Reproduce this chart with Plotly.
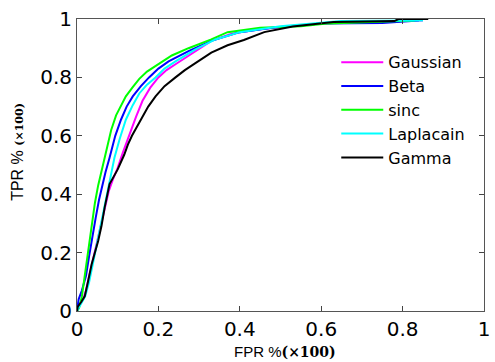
import plotly.graph_objects as go

# ROC curves (FPR, TPR)
gauss_x = [0, 0.005, 0.015, 0.022, 0.03, 0.04, 0.05, 0.06, 0.068, 0.078, 0.088, 0.1, 0.112, 0.12, 0.128, 0.145, 0.161, 0.18, 0.2, 0.22, 0.242, 0.282, 0.33, 0.38, 0.45, 0.52, 0.6, 0.7, 0.85]
gauss_y = [0, 0.02, 0.04, 0.07, 0.12, 0.18, 0.24, 0.295, 0.35, 0.41, 0.45, 0.49, 0.54, 0.57, 0.605, 0.665, 0.72, 0.765, 0.8, 0.825, 0.845, 0.88, 0.925, 0.95, 0.965, 0.975, 0.985, 0.99, 0.995]

beta_x = [0, 0.004, 0.012, 0.022, 0.03, 0.038, 0.046, 0.054, 0.062, 0.07, 0.08, 0.094, 0.108, 0.122, 0.137, 0.157, 0.177, 0.2, 0.225, 0.274, 0.33, 0.4, 0.48, 0.6, 0.75, 0.84]
beta_y = [0, 0.04, 0.07, 0.12, 0.19, 0.26, 0.32, 0.38, 0.43, 0.475, 0.525, 0.6, 0.655, 0.7, 0.735, 0.77, 0.8, 0.83, 0.855, 0.89, 0.925, 0.955, 0.97, 0.985, 0.986, 0.995]

sinc_x = [0, 0.005, 0.012, 0.019, 0.025, 0.032, 0.038, 0.044, 0.052, 0.06, 0.068, 0.076, 0.084, 0.096, 0.11, 0.12, 0.136, 0.153, 0.172, 0.193, 0.233, 0.274, 0.33, 0.37, 0.45, 0.55, 0.62, 0.83]
sinc_y = [0, 0.01, 0.05, 0.12, 0.18, 0.26, 0.32, 0.37, 0.43, 0.48, 0.53, 0.58, 0.62, 0.67, 0.71, 0.735, 0.765, 0.795, 0.82, 0.84, 0.875, 0.9, 0.93, 0.955, 0.97, 0.975, 0.985, 0.995]

lap_x = [0, 0.008, 0.02, 0.03, 0.04, 0.05, 0.06, 0.068, 0.076, 0.084, 0.092, 0.105, 0.12, 0.137, 0.153, 0.172, 0.193, 0.215, 0.242, 0.29, 0.34, 0.4, 0.5, 0.65, 0.85]
lap_y = [0, 0.02, 0.05, 0.1, 0.17, 0.24, 0.3, 0.36, 0.42, 0.47, 0.525, 0.59, 0.655, 0.705, 0.745, 0.775, 0.8, 0.83, 0.855, 0.895, 0.93, 0.955, 0.975, 0.993, 0.995]

gamma_x = [0, 0.002, 0.01, 0.019, 0.027, 0.036, 0.044, 0.052, 0.06, 0.068, 0.08, 0.09, 0.1, 0.116, 0.125, 0.135, 0.145, 0.16, 0.175, 0.193, 0.215, 0.242, 0.265, 0.29, 0.33, 0.37, 0.41, 0.46, 0.53, 0.63, 0.78, 0.79, 0.863]
gamma_y = [0, 0.015, 0.03, 0.05, 0.1, 0.16, 0.2, 0.24, 0.29, 0.355, 0.435, 0.46, 0.485, 0.535, 0.57, 0.6, 0.625, 0.665, 0.7, 0.735, 0.77, 0.8, 0.825, 0.848, 0.885, 0.91, 0.928, 0.955, 0.974, 0.99, 0.993, 1.0, 1.0]

tick_vals = [0, 0.2, 0.4, 0.6, 0.8, 1]
tick_text = ["0", "0.2", "0.4", "0.6", "0.8", "1"]

series = [
    ("Gaussian", gauss_x, gauss_y, "#ff00ff"),
    ("Beta", beta_x, beta_y, "#0000ff"),
    ("sinc", sinc_x, sinc_y, "#00ff00"),
    ("Laplacain", lap_x, lap_y, "#00ffff"),
    ("Gamma", gamma_x, gamma_y, "#000000"),
]

fig = go.Figure()
for name, xs, ys, col in series:
    fig.add_trace(go.Scatter(x=xs, y=ys, mode="lines", name=name,
                             line=dict(color=col, width=2)))

axis_common = dict(range=[0, 1], tickvals=tick_vals, ticktext=tick_text,
                   ticks="inside", ticklen=5, tickcolor="#444",
                   showline=True, linecolor="#555", linewidth=1, mirror="ticks",
                   showgrid=False, zeroline=False, ticklabeloverflow="allow",
                   tickfont=dict(family="DejaVu Sans", size=20, color="#000"))

fig.update_layout(
    width=495, height=362,
    margin=dict(l=77, r=5, t=19, b=51),
    paper_bgcolor="white", plot_bgcolor="white",
    showlegend=True,
    legend=dict(x=0.637, y=0.91, xanchor="left", yanchor="top",
                bgcolor="rgba(0,0,0,0)", borderwidth=0,
                font=dict(family="DejaVu Sans", size=16, color="#000"),
                itemwidth=42, tracegroupgap=0),
    xaxis=dict(**axis_common),
    yaxis=dict(**axis_common),
    annotations=[
        dict(text="FPR %<span style='font-family:DejaVu Serif;font-weight:bold;font-size:14px'>(×100)</span>",
             xref="paper", yref="paper", x=0.511, y=-0.175, xanchor="center", yanchor="bottom",
             showarrow=False, font=dict(family="Liberation Sans", size=15, color="#000")),
        dict(text="TPR % <span style='font-family:DejaVu Serif;font-weight:bold;font-size:11px'>(×100)</span>",
             xref="paper", yref="paper", x=-0.145, y=0.545, xanchor="center", yanchor="middle",
             textangle=-90, showarrow=False, font=dict(family="Liberation Sans", size=16, color="#000")),
    ],
)

fig.write_html("out.html")
